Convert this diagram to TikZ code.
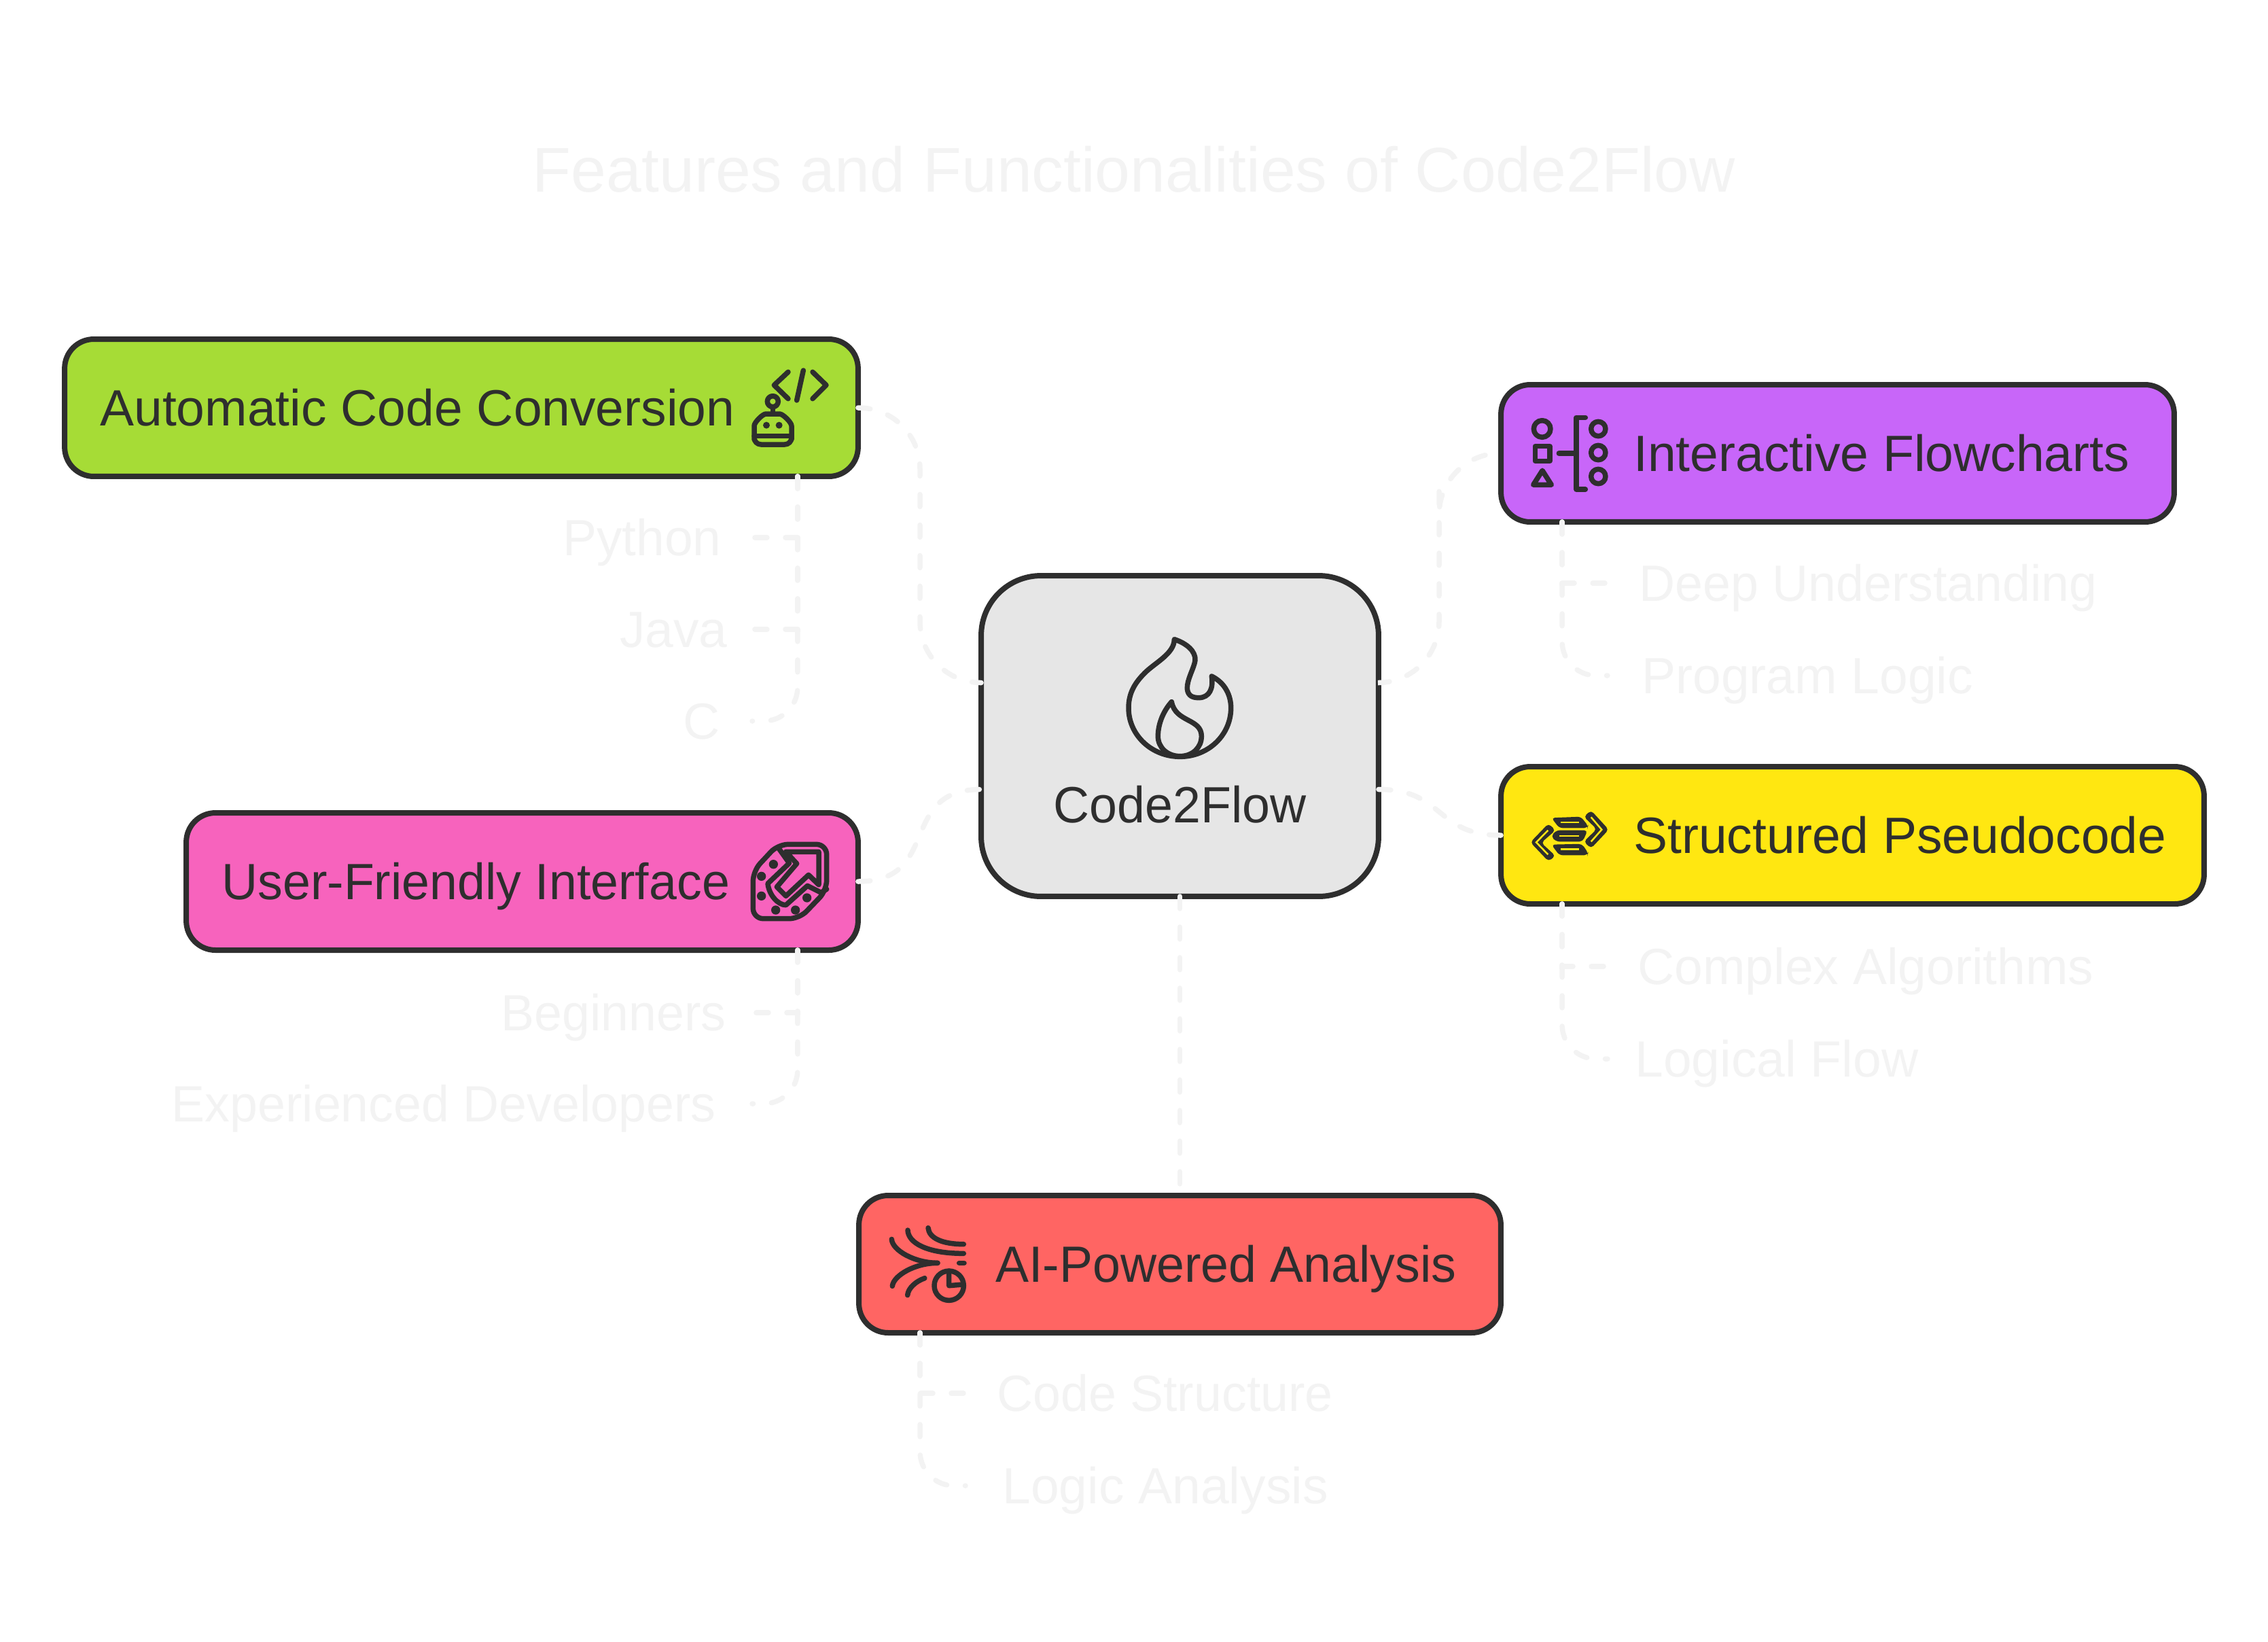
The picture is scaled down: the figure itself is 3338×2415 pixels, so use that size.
\documentclass[tikz,border=0pt]{standalone}
\usepackage{fontspec}
\setmainfont{Liberation Sans}
\newfontfamily\tightfont[FakeStretch=0.98]{Liberation Sans}
\definecolor{inkgrey}{HTML}{2E2E2E}
\definecolor{pale}{HTML}{F3F3F3}
\definecolor{limefill}{HTML}{A6DC36}
\definecolor{violetfill}{HTML}{C866F9}
\definecolor{sunfill}{HTML}{FFE711}
\definecolor{rosefill}{HTML}{F763BD}
\definecolor{coralfill}{HTML}{FF6563}
\definecolor{hubfill}{HTML}{E6E6E6}
\newcommand{\bodyfont}{\fontsize{42.7pt}{50pt}\selectfont}
\newcommand{\titlefont}{\fontsize{53pt}{60pt}\selectfont}

\begin{document}
\begin{tikzpicture}[x=0.02cm, y=-0.02cm,
		card/.style={shape=rectangle, draw=inkgrey, line width=0.16cm, rounded corners=0.86cm, outer sep=0pt, minimum height=4.04cm},
		cardtext/.style={anchor=west, inner sep=0pt, text=inkgrey, text height=1.06cm, text depth=0pt, font=\bodyfont},
		leafleft/.style={anchor=east, inner ysep=0pt, text=pale, text height=1.06cm, text depth=0pt, font=\bodyfont},
		leafright/.style={anchor=west, inner ysep=0pt, text=pale, text height=1.06cm, text depth=0pt, font=\bodyfont},
		tight/.style={font=\tightfont\bodyfont},
		link/.style={draw=pale, line width=0.15cm, line cap=round, dash pattern={on 0.36cm off 0.54cm}},
		iconline/.style={draw=inkgrey, line width=0.15cm, line cap=round, line join=round}]
	\useasboundingbox (0, 0) rectangle (3338, 2415);
	\node[font=\titlefont, text=pale] (heading) at (1669, 249) {Features and Functionalities of Code2Flow};
	\node[card, fill=hubfill, minimum width=11.7cm, minimum height=9.44cm, rounded corners=1.76cm] (hub) at (1736.5, 1083) {};
	\node[card, fill=limefill, minimum width=23.36cm] (autoconv) at (679, 600) {};
	\node[card, fill=rosefill, minimum width=19.78cm] (friendly) at (768.5, 1297) {};
	\node[card, fill=violetfill, minimum width=19.82cm] (flowcharts) at (2704.5, 667) {};
	\node[card, fill=sunfill, minimum width=20.7cm] (pseudocode) at (2726.5, 1229) {};
	\node[card, fill=coralfill, minimum width=18.9cm] (analysis) at (1736.5, 1860) {};
	\node[cardtext, tight, anchor=center] (hubtext) at (1736.5, 1184) {Code2Flow};
	\node[cardtext] (autoconvtext) at (147, 600) {Automatic Code Conversion};
	\node[cardtext, tight] (friendlytext) at (326, 1297) {User-Friendly Interface};
	\node[cardtext] (flowchartstext) at (2404, 667) {Interactive Flowcharts};
	\node[cardtext] (pseudocodetext) at (2404, 1229) {Structured Pseudocode};
	\node[cardtext, tight] (analysistext) at (1465, 1860) {AI-Powered Analysis};
	\node[leafleft, inner xsep=0.9cm] (python) at (1107, 791) {Python};
	\node[leafleft, inner xsep=0.72cm] (java) at (1107, 926) {Java};
	\node[leafleft, inner xsep=0.94cm] (clang) at (1107, 1061) {C};
	\node[leafleft, tight, inner xsep=0.76cm] (beginners) at (1107, 1490) {Beginners};
	\node[leafleft, tight, inner xsep=1.06cm] (experienced) at (1107, 1624) {Experienced Developers};
	\node[leafright, tight, inner xsep=0.92cm] (understanding) at (2366, 858) {Deep Understanding};
	\node[leafright, inner xsep=1cm] (logic) at (2366, 994) {Program Logic};
	\node[leafright, inner xsep=0.88cm] (algorithms) at (2366, 1422) {Complex Algorithms};
	\node[leafright, inner xsep=0.8cm] (logicalflow) at (2366, 1558) {Logical Flow};
	\node[leafright, tight, inner xsep=0.92cm] (structure) at (1421, 2050) {Code Structure};
	\node[leafright, inner xsep=1.08cm] (logicanalysis) at (1421, 2186) {Logic Analysis};
	\draw[link, rounded corners=1.8cm] (autoconv.east) -| (1354, 800) |- ([yshift=1.57cm]hub.west);
	\draw[link] (friendly.east) to[out=0, in=180, looseness=1.4] ([yshift=-1.57cm]hub.west);
	\draw[link, rounded corners=1.8cm] ([yshift=1.57cm]hub.east) -| (2118, 800) |- (flowcharts.west);
	\draw[link] ([yshift=-1.57cm]hub.east) to[out=0, in=180, looseness=1.3] (pseudocode.west);
	\draw[link] (hub.south) -- (analysis.north);
	\draw[link] ([xshift=-1.78cm]autoconv.south east) |- (python.east);
	\draw[link] ([xshift=-1.78cm]autoconv.south east) |- (java.east);
	\draw[link, rounded corners=1cm] ([xshift=-1.78cm]autoconv.south east) |- (clang.east);
	\draw[link] ([xshift=-1.78cm]friendly.south east) |- (beginners.east);
	\draw[link, rounded corners=1cm] ([xshift=-1.78cm]friendly.south east) |- (experienced.east);
	\draw[link] ([xshift=1.8cm]flowcharts.south west) |- (understanding.west);
	\draw[link, rounded corners=1cm] ([xshift=1.8cm]flowcharts.south west) |- (logic.west);
	\draw[link] ([xshift=1.8cm]pseudocode.south west) |- (algorithms.west);
	\draw[link, rounded corners=1cm] ([xshift=1.8cm]pseudocode.south west) |- (logicalflow.west);
	\draw[link] ([xshift=1.8cm]analysis.south west) |- (structure.west);
	\draw[link, rounded corners=1cm] ([xshift=1.8cm]analysis.south west) |- (logicanalysis.west);
	\begin{scope}[shift={(1600, 900)}, scale=1/3]
		\draw[iconline] (385, 122) .. controls (440, 140) and (480, 175) .. (477, 215) .. controls (472, 250) and (440, 300) .. (442, 340) .. controls (445, 375) and (470, 380) .. (495, 380) .. controls (540, 378) and (558, 340) .. (550, 285) .. controls (610, 315) and (635, 370) .. (635, 425) .. controls (635, 545) and (535, 640) .. (410, 640) .. controls (285, 640) and (183, 545) .. (183, 425) .. controls (183, 355) and (215, 310) .. (255, 270) .. controls (300, 225) and (385, 185) .. (385, 122) -- cycle;
		\draw[iconline] (373, 398) .. controls (340, 435) and (313, 490) .. (313, 550) .. controls (313, 600) and (355, 638) .. (410, 638) .. controls (465, 638) and (505, 600) .. (505, 550) .. controls (505, 470) and (390, 490) .. (373, 398) -- cycle;
	\end{scope}
	\begin{scope}[shift={(1000, 460)}, scale=1/3]
		\draw[iconline] (480, 262) -- (418, 320) -- (480, 380);
		\draw[iconline] (547, 255) -- (518, 387);
		\draw[iconline] (588, 262) -- (648, 320) -- (588, 380);
		\draw[iconline] (412, 392) circle[radius=24];
		\draw[iconline] (412, 416) -- (412, 440);
		\draw[iconline, rounded corners=0.2cm] (330, 530) .. controls (330, 485) and (367, 447) .. (412, 447) .. controls (457, 447) and (495, 485) .. (495, 530) -- (495, 582) -- (330, 582) -- cycle;
		\draw[iconline] (330, 545) -- (495, 545);
		\fill[inkgrey] (384, 497) circle[radius=15] (440, 497) circle[radius=15];
	\end{scope}
	\begin{scope}[shift={(2200, 550)}, scale=1/3]
		\draw[iconline] (209, 243) circle[radius=37];
		\draw[iconline] (178, 320) rectangle (243, 385);
		\draw[iconline] (210, 427) -- (170, 490) -- (250, 490) -- cycle;
		\draw[iconline] (283, 351) -- (360, 351);
		\draw[iconline] (400, 193) -- (360, 193) -- (360, 510) -- (400, 510);
		\foreach \cy in {243, 348, 453} {
			\draw[iconline] (457, \cy) circle[radius=32];
		}
	\end{scope}
	\begin{scope}[shift={(2200, 1160)}, scale=1/3]
		\fill[inkgrey, rounded corners=0.1cm] (250, 130) -- (380, 125) -- (412, 165) -- (410, 175) -- (285, 175) -- cycle;
		\fill[inkgrey, rounded corners=0.1cm] (248, 212) -- (272, 185) -- (410, 185) -- (388, 235) -- (272, 235) -- cycle;
		\fill[inkgrey, rounded corners=0.1cm] (250, 248) -- (385, 245) -- (412, 285) -- (410, 295) -- (285, 295) -- cycle;
		\fill[inkgrey, rounded corners=0.1cm] (157, 238) -- (237, 155) -- (268, 185) -- (205, 240) -- (268, 298) -- (237, 322) -- cycle;
		\fill[inkgrey, rounded corners=0.1cm] (425, 97) -- (503, 182) -- (425, 265) -- (393, 235) -- (450, 180) -- (393, 125) -- cycle;
		\draw[sunfill, line width=0.05cm] (290, 150) -- (372, 150);
		\draw[sunfill, line width=0.05cm] (285, 210) -- (372, 210);
		\draw[sunfill, line width=0.05cm] (290, 268) -- (372, 268);
		\draw[sunfill, line width=0.05cm] (235, 185) -- (183, 238) -- (235, 292);
		\draw[sunfill, line width=0.05cm] (425, 127) -- (472, 182) -- (425, 235);
	\end{scope}
	\begin{scope}[shift={(1080, 1210)}, scale=1/3]
		\draw[iconline, rounded corners=0.3cm] (85, 425) -- (85, 215) -- (195, 97) -- (410, 97) -- (410, 300) -- (290, 425) -- cycle;
		\draw[iconline] (195, 110) -- (245, 180) -- (150, 270) .. controls (155, 320) and (195, 365) .. (230, 365) -- (325, 280) -- (385, 310) -- (410, 295);
		\draw[iconline] (230, 130) -- (375, 130) -- (375, 275) -- (330, 232) -- (230, 325) -- (190, 285) -- (278, 182) -- cycle;
		\foreach \px/\py in {175/185, 122/238, 122/325, 185/387, 272/387, 323/333} {
			\fill[inkgrey] (\px, \py) circle[radius=20];
		}
	\end{scope}
	\begin{scope}[shift={(1280, 1790)}, scale=1/3]
		\draw[iconline] (258, 50) .. controls (262, 95) and (320, 122) .. (415, 122);
		\draw[iconline] (168, 60) .. controls (170, 115) and (250, 163) .. (415, 163);
		\draw[iconline] (97, 100) .. controls (100, 150) and (200, 205) .. (300, 205);
		\draw[iconline] (100, 307) .. controls (105, 260) and (200, 205) .. (300, 205);
		\draw[iconline] (167, 347) .. controls (170, 315) and (205, 285) .. (243, 272);
		\draw[iconline] (395, 205) -- (417, 205);
		\draw[iconline] (350, 305) circle[radius=65];
		\draw[iconline] (350, 240) -- (350, 305) -- (410, 300);
	\end{scope}
\end{tikzpicture}
\end{document}
